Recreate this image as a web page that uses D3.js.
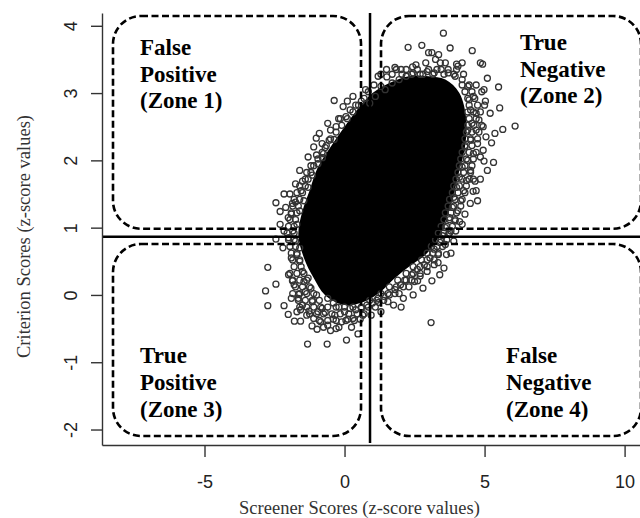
<!DOCTYPE html>
<html><head><meta charset="utf-8">
<script src="https://cdn.jsdelivr.net/npm/d3@7"></script>
<style>html,body{margin:0;padding:0;background:#fff;} svg{display:block;}</style>
</head><body><svg id="c" width="640" height="518"></svg>
<script>
// ---------- data ----------
const xTicks = [-5, 0, 5, 10];
const yTicks = [-2, -1, 0, 1, 2, 3, 4];
const xTitle = "Screener Scores (z-score values)";
const yTitle = "Criterion Scores (z-score values)";
const cutoffX = 0.91;
const cutoffY = 0.865;
const zoneLabels = [
  ["False", "Positive", "(Zone 1)"],
  ["True", "Negative", "(Zone 2)"],
  ["True", "Positive", "(Zone 3)"],
  ["False", "Negative", "(Zone 4)"]
];
// saturated (fully overplotted) core of the cloud
const coreOutline = [
  [1.0,3.0],[1.6,3.15],[2.3,3.25],[3.0,3.25],[3.6,3.2],[4.1,3.0],[4.35,2.6],[4.3,2.2],
  [4.1,1.85],[3.9,1.5],[3.65,1.15],[3.35,0.85],[2.9,0.6],[2.3,0.42],[1.8,0.25],[1.3,0.05],
  [0.7,-0.1],[0.0,-0.15],[-0.7,0.0],[-1.1,0.25],[-1.45,0.55],[-1.65,0.9],[-1.5,1.25],
  [-1.25,1.55],[-0.95,1.9],[-0.5,2.2],[0.0,2.5],[0.5,2.78]
];
// individually visible points (edge of the cloud and outliers)
const points = [
  [3.53,3.89],[2.27,3.68],[2.76,3.71],[3.12,3.60],[3.36,3.57],[3.77,3.67],[4.56,3.63],
  [4.93,3.43],[4.85,3.45],[4.00,3.43],[3.42,3.45],[2.43,3.39],[2.02,3.35],[1.51,3.24],
  [5.10,3.22],[5.50,3.09],[4.98,3.05],[5.54,2.78],[5.03,2.88],[6.09,2.51],[5.65,2.46],
  [5.37,2.40],[5.25,2.26],[5.32,1.97],[4.98,1.99],[4.66,1.69],[4.59,1.54],[4.49,1.36],
  [4.11,1.09],[3.97,0.95],[3.71,0.90],[3.64,0.60],[3.34,0.48],[3.12,0.21],[3.09,-0.41],
  [2.61,0.21],[2.02,-0.18],[1.22,-0.11],[-0.37,2.89],[-0.21,2.62],[-1.01,2.33],
  [-0.37,2.31],[-0.69,2.19],[-0.79,2.04],[-1.35,1.82],[-1.50,1.69],[-2.16,1.50],
  [-2.45,1.37],[-2.30,1.24],[-1.86,1.36],[-2.01,1.15],[-2.45,0.83],[-2.16,0.95],
  [-2.74,0.41],[-2.45,0.16],[-2.82,0.06],[-2.74,-0.16],[-2.16,-0.16],[-2.01,-0.29],
  [-1.79,-0.39],[-1.57,-0.39],[-1.16,-0.46],[-0.98,-0.51],[-0.50,-0.53],[-1.32,-0.73],
  [-0.62,-0.73],[0.07,-0.67],[0.48,-0.58],[0.56,-0.36],[0.12,-0.36],[-0.40,-0.36],
  [-0.69,-0.26],[-1.27,-0.24],[-1.57,-0.22],[-1.64,0.01],[-1.86,0.21],
  [1.45,3.05],[1.70,3.15],[1.95,3.20],[2.20,3.25],[2.45,3.30],[2.70,3.28],[2.95,3.32],
  [3.20,3.30],[3.45,3.35],[3.70,3.30],[3.95,3.25],[4.20,3.20],[4.40,3.10],
  [2.55,3.42],[2.90,3.45],[3.25,3.50],[3.60,3.45],[4.05,3.40],[1.30,3.10],[1.10,2.95],[0.90,2.85],
  [4.45,2.90],[4.60,2.95],[4.50,2.75],[4.70,2.70],[4.55,2.55],[4.80,2.60],[4.40,2.45],
  [4.70,2.45],[4.95,2.50],[4.50,2.30],[4.75,2.25],[4.30,2.20],[4.60,2.10],[4.85,2.05],
  [4.40,2.00],[4.20,1.90],[4.50,1.85],[4.10,1.75],[4.35,1.70],[4.60,1.72],[4.00,1.60],
  [4.25,1.55],[3.90,1.45],[4.15,1.40],[3.85,1.30],[4.05,1.25],[3.75,1.15],[3.95,1.10],
  [3.60,1.00],[3.80,0.95],[3.50,0.88],[3.40,0.78],[3.60,0.75],[3.20,0.68],[3.35,0.60],
  [3.05,0.55],[3.20,0.45],[2.85,0.45],[2.95,0.35],[2.60,0.38],[2.70,0.28],[2.40,0.30],
  [2.50,0.20],[2.20,0.22],[2.30,0.12],[2.00,0.15],[1.80,0.08],[1.95,0.02],[1.60,0.00],
  [1.40,-0.02],[1.55,-0.10],[1.20,-0.05],[1.00,-0.12],[0.80,-0.15],[0.60,-0.20],
  [0.40,-0.22],[0.20,-0.20],[0.00,-0.25],[-0.20,-0.18],[-0.40,-0.12],[-0.60,-0.05],
  [0.30,-0.35],[0.65,-0.30],[-0.10,-0.40],[-0.35,-0.30],[-0.80,-0.20],[-1.00,0.00],
  [-0.95,-0.25],[-1.20,0.10],[-1.30,0.25],[-1.15,-0.10],[-1.40,0.05],[-1.50,0.35],
  [-1.60,0.50],[-1.45,0.20],[-1.70,0.60],[-1.75,0.80],[-1.60,0.70],[-1.85,0.95],
  [-1.70,1.05],[-1.90,1.20],[-1.60,1.25],[-1.75,1.38],[-1.45,1.40],[-1.55,1.55],
  [-1.30,1.60],[-1.40,1.72],[-1.15,1.78],[-1.20,1.92],[-0.95,1.95],[-1.00,2.08],
  [-0.75,2.10],[-0.80,2.25],[-0.55,2.30],[-0.50,2.45],[-0.30,2.50],[-0.15,2.62],
  [0.05,2.65],[0.20,2.75],[0.40,2.82],[0.60,2.88],[0.30,2.95],[-0.05,2.80],
  [-1.90,0.55],[-2.00,0.30],[-1.80,0.15],[-1.65,-0.05],[-1.90,-0.05],[-1.50,-0.15],
  [-1.35,-0.30],[-1.70,-0.25],[-1.10,-0.35],[-0.85,-0.40],[-0.60,-0.45],[-0.30,-0.50],
  [-2.20,0.70],[-2.00,0.85],[-2.30,1.05],[-2.10,1.30],[-1.95,1.50],[-1.75,1.65],
  [-1.60,1.85],[-1.30,2.05],[-1.10,2.20],[-0.90,2.40],[-0.60,2.55],
  [4.70,1.55],[4.85,1.72],[4.75,1.40],[4.30,1.20],[4.20,1.05],[3.90,0.80],[3.80,0.62],
  [3.55,0.40],[3.40,0.30],[2.80,0.10],[2.45,0.00],[2.10,-0.05],[1.75,-0.15],[1.30,-0.25],
  [0.95,-0.30],[5.20,2.70],[5.05,2.35],[4.95,2.15],[5.10,1.85],[4.20,3.45],[3.00,3.60],
  [1.80,3.38],[1.20,3.25],[0.75,3.05],[0.10,2.88],
  [1.50,3.35],[1.85,3.35],[2.20,3.35],[2.60,3.35],[3.00,3.35],[3.30,3.35],[3.70,3.35],[4.00,3.35],
  [1.30,3.28],[1.70,3.28],[2.05,3.28],[2.40,3.28],[2.80,3.28],[3.15,3.28],[3.55,3.28],[3.90,3.28],[4.25,3.28],
  [1.05,3.12],[4.20,3.12],[4.45,3.12],[4.70,3.12],
  [0.85,3.02],[4.30,3.02],[4.55,3.02],[4.90,3.02],
  [0.70,2.92],[4.40,2.92],[4.65,2.92],
  [0.50,2.82],[4.45,2.82],[4.75,2.82],[5.00,2.82],
  [0.30,2.72],[4.40,2.72],[4.60,2.72],[4.85,2.72],
  [0.10,2.62],[4.45,2.62],[4.70,2.62],
  [-0.10,2.52],[4.40,2.52],[4.62,2.52],[4.90,2.52],
  [-0.30,2.42],[4.35,2.42],[4.55,2.42],[4.80,2.42],
  [-0.50,2.32],[4.30,2.32],[4.50,2.32],[4.75,2.32],
  [-0.65,2.22],[4.30,2.22],[4.55,2.22],
  [-0.80,2.12],[4.20,2.12],[4.45,2.12],[4.70,2.12],
  [-0.95,2.02],[4.15,2.02],[4.35,2.02],[4.60,2.02],
  [-1.10,1.92],[4.10,1.92],[4.30,1.92],[4.55,1.92],
  [-1.20,1.82],[4.05,1.82],[4.25,1.82],[4.50,1.82],
  [-1.30,1.72],[3.98,1.72],[4.20,1.72],[4.45,1.72],
  [-1.40,1.62],[-1.60,1.62],[3.90,1.62],[4.10,1.62],[4.35,1.62],
  [-1.50,1.52],[-1.70,1.52],[3.85,1.52],[4.05,1.52],[4.30,1.52],
  [-1.60,1.42],[-1.80,1.42],[3.75,1.42],[3.95,1.42],[4.20,1.42],
  [-1.65,1.32],[-1.85,1.32],[3.70,1.32],[3.90,1.32],[4.15,1.32],
  [-1.70,1.22],[-1.90,1.22],[3.60,1.22],[3.80,1.22],[4.00,1.22],
  [-1.75,1.12],[-1.95,1.12],[3.55,1.12],[3.75,1.12],[3.95,1.12],
  [-1.80,1.02],[-2.00,1.02],[3.45,1.02],[3.65,1.02],[3.85,1.02],
  [-1.80,0.92],[-2.05,0.92],[3.35,0.92],[3.55,0.92],[3.75,0.92],
  [-1.80,0.82],[-2.00,0.82],[3.25,0.82],[3.45,0.82],[3.65,0.82],
  [-1.75,0.72],[-1.95,0.72],[3.10,0.72],[3.30,0.72],[3.50,0.72],
  [-1.70,0.62],[-1.90,0.62],[2.95,0.62],[3.15,0.62],[3.35,0.62],
  [-1.60,0.52],[-1.85,0.52],[2.75,0.52],[2.95,0.52],[3.20,0.52],
  [-1.55,0.42],[-1.80,0.42],[2.45,0.42],[2.70,0.42],[2.95,0.42],
  [-1.45,0.32],[-1.70,0.32],[-1.95,0.32],[2.20,0.32],[2.45,0.32],[2.70,0.32],
  [-1.35,0.22],[-1.60,0.22],[-1.85,0.22],[1.90,0.22],[2.15,0.22],[2.40,0.22],
  [-1.25,0.12],[-1.50,0.12],[-1.75,0.12],[1.60,0.12],[1.85,0.12],[2.10,0.12],
  [-1.10,0.02],[-1.35,0.02],[-1.60,0.02],[-1.85,0.02],[1.30,0.02],[1.55,0.02],[1.80,0.02],
  [-0.90,-0.08],[-1.15,-0.08],[-1.40,-0.08],[-1.65,-0.08],[0.90,-0.08],[1.15,-0.08],[1.40,-0.08],
  [-0.60,-0.18],[-0.85,-0.18],[-1.10,-0.18],[-1.35,-0.18],[-1.60,-0.18],[-0.30,-0.18],
  [0.00,-0.18],[0.30,-0.18],[0.60,-0.18],[0.85,-0.18],[1.10,-0.18],
  [-0.45,-0.28],[-0.75,-0.28],[-1.00,-0.28],[-1.25,-0.28],[-0.15,-0.28],[0.15,-0.28],[0.45,-0.28],[0.70,-0.28],
  [-0.60,-0.38],[-0.90,-0.38],[-0.30,-0.38],[0.05,-0.38],[0.35,-0.38],
  [-0.75,-0.48],[-0.20,-0.48],[0.25,-0.48]
];

// ---------- layout ----------
const svg = d3.select("#c");
const x = d3.scaleLinear().domain([-8.66, 10.55]).range([102, 640]);
const y = d3.scaleLinear().domain([-2.23, 4.19]).range([445, 13]);
const serif = "'Liberation Serif','Times New Roman',serif";
const sans = "'Liberation Sans',Arial,sans-serif";

// core cloud
svg.append("path")
  .datum(coreOutline)
  .attr("d", d3.line().x(d => x(d[0])).y(d => y(d[1])).curve(d3.curveCatmullRomClosed))
  .attr("fill", "#000");

// points
svg.append("g").selectAll("circle").data(points).join("circle")
  .attr("cx", d => x(d[0])).attr("cy", d => y(d[1])).attr("r", 3)
  .attr("fill", "none").attr("stroke", "#333").attr("stroke-width", 1.3);

// cutoff lines
svg.append("line").attr("x1", x(cutoffX)).attr("x2", x(cutoffX)).attr("y1", 13).attr("y2", 443)
  .attr("stroke", "#000").attr("stroke-width", 2.5);
svg.append("line").attr("x1", 102).attr("x2", 640).attr("y1", y(cutoffY)).attr("y2", y(cutoffY))
  .attr("stroke", "#000").attr("stroke-width", 2.5);

// zone boxes
const cx = x(cutoffX), cy = y(cutoffY);
const boxes = [
  {x0: 113, x1: cx - 9, y0: 16, y1: cy - 8},
  {x0: cx + 11, x1: 641, y0: 16, y1: cy - 8},
  {x0: 113, x1: cx - 9, y0: cy + 7.3, y1: 436},
  {x0: cx + 11, x1: 641, y0: cy + 7.3, y1: 436}
];
svg.append("g").selectAll("rect").data(boxes).join("rect")
  .attr("x", d => d.x0).attr("y", d => d.y0)
  .attr("width", d => d.x1 - d.x0).attr("height", d => d.y1 - d.y0)
  .attr("rx", 28).attr("ry", 28)
  .attr("fill", "none").attr("stroke", "#000").attr("stroke-width", 2.6)
  .attr("stroke-dasharray", "7,3.5");

// zone labels
const labelPos = [[140, 55], [520, 50], [140, 363.3], [506, 363.3]];
zoneLabels.forEach((lines, i) => {
  const t = svg.append("text").attr("font-family", serif).attr("font-weight", "bold")
    .attr("font-size", 23).attr("fill", "#000");
  lines.forEach((s, j) => {
    t.append("tspan").attr("x", labelPos[i][0]).attr("y", labelPos[i][1] + j * 26.7).text(s);
  });
});

// axes
const fmt = d => String(d);
const xAxis = svg.append("g").attr("transform", "translate(0,445)")
  .call(d3.axisBottom(x).tickValues(xTicks).tickSize(12).tickSizeOuter(0).tickFormat(fmt));
xAxis.selectAll("text").attr("y", 43.4).attr("dy", 0)
  .attr("font-family", sans).attr("font-size", 18).attr("fill", "#222");
const yAxis = svg.append("g").attr("transform", "translate(102,0)")
  .call(d3.axisLeft(y).tickValues(yTicks).tickSize(11).tickSizeOuter(0).tickFormat(fmt));
yAxis.selectAll("text").attr("x", 0).attr("y", 0).attr("dy", 0)
  .attr("text-anchor", "middle").attr("transform", "translate(-24.6,0) rotate(-90)")
  .attr("font-family", sans).attr("font-size", 18).attr("fill", "#222");
svg.selectAll(".domain, .tick line").attr("stroke", "#333").attr("stroke-width", 1.4);

// titles
svg.append("text").attr("x", 359.5).attr("y", 514).attr("text-anchor", "middle")
  .attr("font-family", serif).attr("font-size", 18.5).attr("fill", "#333").text(xTitle);
svg.append("text").attr("transform", "translate(29.5,236.5) rotate(-90)").attr("text-anchor", "middle")
  .attr("font-family", serif).attr("font-size", 18.5).attr("fill", "#333").text(yTitle);
</script>
</body></html>
